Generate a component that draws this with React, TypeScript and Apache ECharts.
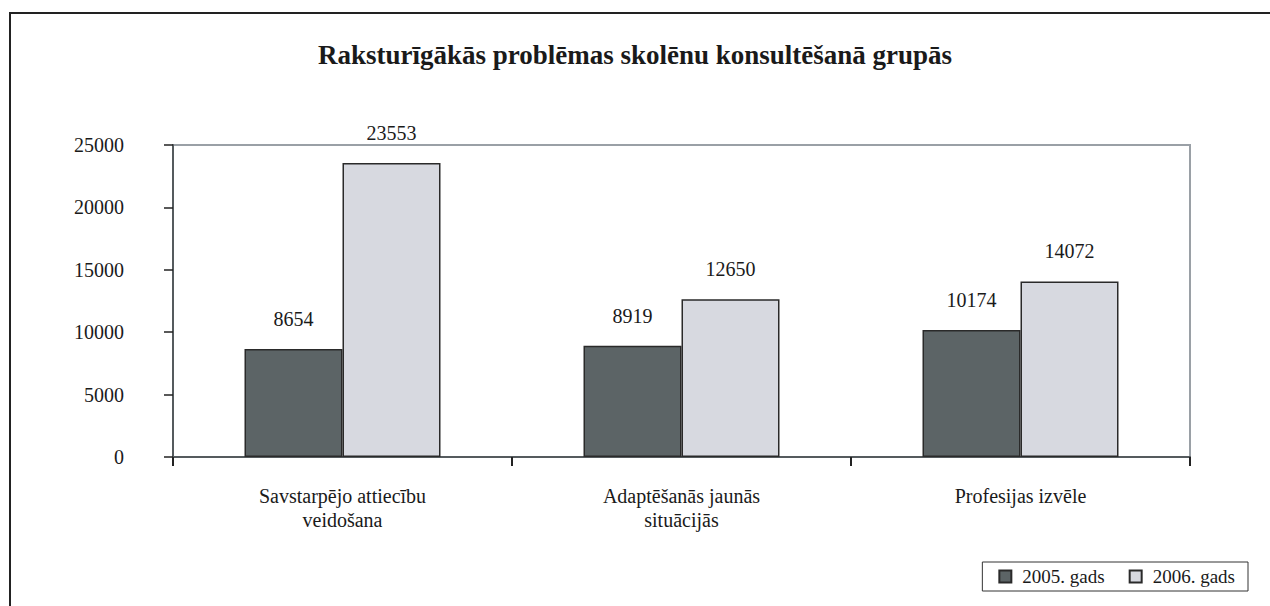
import React, { useEffect, useRef } from "react";
import * as echarts from "echarts";

const categories = [
  "Savstarpējo attiecību\nveidošana",
  "Adaptēšanās jaunās\nsituācijās",
  "Profesijas izvēle",
];
const series2005 = [8654, 8919, 10174];
const series2006 = [23553, 12650, 14072];
const seriesNames = ["2005. gads", "2006. gads"];
const titleText = "Raksturīgākās problēmas skolēnu konsultēšanā grupās";

const FONT = "Liberation Serif, serif";

export default function App() {
  const ref = useRef<HTMLDivElement>(null);
  useEffect(() => {
    if (!ref.current) return;
    const chart = echarts.init(ref.current, undefined, { renderer: "svg" });
    const labelCfg = {
      show: true,
      position: "top",
      distance: 20,
      color: "#1a1a1a",
      fontSize: 20,
      fontFamily: FONT,
    };
    chart.setOption({
      animation: false,
      backgroundColor: "#ffffff",
      textStyle: { fontFamily: FONT },
      title: {
        text: titleText,
        left: "center",
        top: 36,
        textStyle: { fontFamily: FONT, fontSize: 27, fontWeight: "bold", color: "#1a1a1a" },
      },
      graphic: [
        {
          type: "rect",
          shape: { x: 10, y: 13, width: 1300, height: 700 },
          style: { fill: "none", stroke: "#222", lineWidth: 2 },
          silent: true,
          z: -1,
        },
      ],
      legend: {
        right: 22,
        top: 562,
        orient: "horizontal",
        padding: [5, 13, 5, 16],
        borderColor: "#333",
        borderWidth: 1,
        itemWidth: 12,
        itemHeight: 12,
        itemGap: 24,
        icon: "rect",
        textStyle: { fontFamily: FONT, fontSize: 19, color: "#1a1a1a", padding: [0, 0, 0, 6] },
        data: seriesNames,
      },
      grid: {
        left: 173,
        top: 145,
        right: 80,
        bottom: 149,
        show: true,
        borderColor: "#9aa0a6",
        borderWidth: 2,
        backgroundColor: "transparent",
      },
      xAxis: {
        type: "category",
        data: categories,
        axisLine: { lineStyle: { color: "#555b5e", width: 2 } },
        axisTick: { show: true, length: 9, alignWithLabel: false, interval: 0, lineStyle: { color: "#222", width: 2 } },
        axisLabel: {
          interval: 0,
          margin: 27,
          fontSize: 20,
          lineHeight: 24,
          fontFamily: FONT,
          color: "#1a1a1a",
        },
      },
      yAxis: {
        type: "value",
        min: 0,
        max: 25000,
        interval: 5000,
        axisLine: { show: true, lineStyle: { color: "#555b5e", width: 2 } },
        axisTick: { show: true, length: 9, lineStyle: { color: "#222", width: 1.5 } },
        splitLine: { show: false },
        axisLabel: {
          margin: 49,
          fontSize: 20,
          fontFamily: FONT,
          color: "#1a1a1a",
          formatter: (v: number) => String(v),
        },
      },
      series: [
        {
          name: seriesNames[0],
          type: "bar",
          data: series2005,
          barWidth: 98,
          barGap: "0%",
          itemStyle: { color: "#5c6466", borderColor: "#2a2a2a", borderWidth: 1.5 },
          label: labelCfg,
        },
        {
          name: seriesNames[1],
          type: "bar",
          data: series2006,
          barWidth: 98,
          barGap: "0%",
          itemStyle: { color: "#d7d9e0", borderColor: "#2a2a2a", borderWidth: 1.5 },
          label: labelCfg,
        },
      ],
    });
    return () => chart.dispose();
  }, []);
  return (
    <div
      ref={ref}
      style={{ position: "fixed", left: 0, top: 0, width: 1270, height: 606 }}
    />
  );
}
